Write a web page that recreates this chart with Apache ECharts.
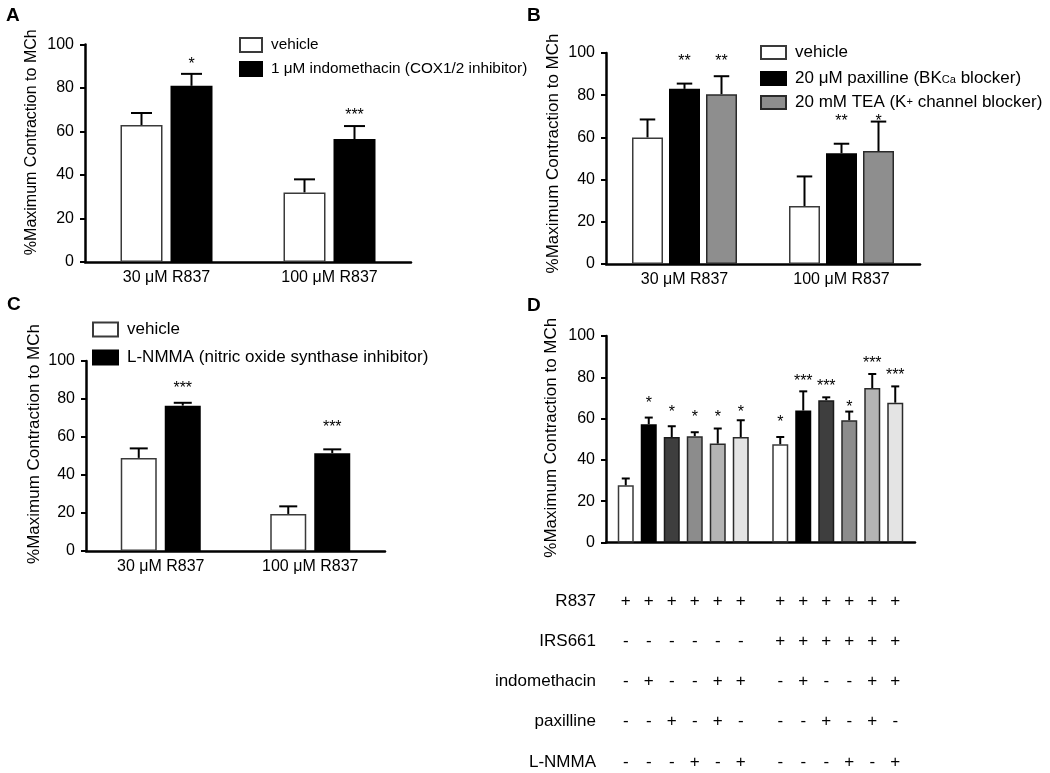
<!DOCTYPE html>
<html>
<head>
<meta charset="utf-8">
<script src="https://cdn.jsdelivr.net/npm/echarts@6/dist/echarts.min.js"></script>
<style>
html,body{margin:0;padding:0;background:#fff;}
#chart{width:1050px;height:773px;}
</style>
</head>
<body>
<div id="chart"></div>
<script>
// ---------- DATA ----------
const doseCats = ['30 μM R837', '100 μM R837'];
const yTicks = [0, 20, 40, 60, 80, 100];

// Panel A
const aVehicle = [63, 32];
const aVehicleErr = [5.5, 6];
const aVehicleStars = ['', ''];
const aVehicleStarLevel = [0, 0];
const aIndo = [81, 56.5];
const aIndoErr = [5.5, 6];
const aIndoStars = ['*', '***'];
const aIndoStarLevel = [92.5, 69];

// Panel B
const bVehicle = [60, 27.5];
const bVehicleErr = [8.5, 14];
const bVehicleStars = ['', ''];
const bVehicleStarLevel = [0, 0];
const bPax = [83, 52.5];
const bPaxErr = [2.5, 4.5];
const bPaxStars = ['**', '**'];
const bPaxStarLevel = [98, 69.5];
const bTEA = [80.5, 53.5];
const bTEAErr = [8.5, 14];
const bTEAStars = ['**', '*'];
const bTEAStarLevel = [98, 69.5];

// Panel C
const cVehicle = [49, 19.5];
const cVehicleErr = [5, 4];
const cVehicleStars = ['', ''];
const cVehicleStarLevel = [0, 0];
const cLNMMA = [76.5, 51.5];
const cLNMMAErr = [1.5, 2];
const cLNMMAStars = ['***', '***'];
const cLNMMAStarLevel = [87.5, 67];

// Panel D (12 bars: two groups of 6)
const dGroups = ['R837', 'R837 + IRS661'];
const dMeans = [27.7, 57.3, 51.1, 51.5, 47.9, 51.1, 47.6, 63.9, 68.9, 59.2, 74.8, 67.7];
const dErr = [3.3, 3.2, 5.2, 1.9, 7.3, 8.1, 3.5, 9.3, 1.4, 4.2, 6.8, 7.9];
const dStars = ['', '*', '*', '*', '*', '*', '*', '***', '***', '*', '***', '***'];
const dStarLevel = [0, 69, 65, 62.5, 62.5, 65, 60, 80, 77.5, 67.5, 88.5, 83];
const dRows = ['R837', 'IRS661', 'indomethacin', 'paxilline', 'L-NMMA'];
const dSigns = [
  ['+','+','+','+','+','+','+','+','+','+','+','+'],
  ['-','-','-','-','-','-','+','+','+','+','+','+'],
  ['-','+','-','-','+','+','-','+','-','-','+','+'],
  ['-','-','+','-','+','-','-','-','+','-','+','-'],
  ['-','-','-','+','-','+','-','-','-','+','-','+']
];

// Names
const nameVehicle = 'vehicle';
const nameIndo = '1 μM indomethacin (COX1/2 inhibitor)';
const namePax = '20 μM paxilline (BKCa blocker)';
const nameTEA = '20 mM TEA (K+ channel blocker)';
const nameLNMMA = 'L-NMMA (nitric oxide synthase inhibitor)';
const yName = '%Maximum Contraction to MCh';

// ---------- STYLE ----------
const FONT = 'Liberation Sans, Arial, Helvetica, sans-serif';
const white = {color: '#ffffff', borderColor: '#3a3a3a', borderWidth: 1.5};
const black = {color: '#000000', borderColor: '#000000', borderWidth: 1.5};
const gray = {color: '#8e8e8e', borderColor: '#2a2a2a', borderWidth: 1.5};
const dStyles = [
  white, black,
  {color: '#3e3e3e', borderColor: '#1a1a1a', borderWidth: 1.5},
  {color: '#8c8c8c', borderColor: '#2a2a2a', borderWidth: 1.5},
  {color: '#b4b4b4', borderColor: '#2a2a2a', borderWidth: 1.5},
  {color: '#e4e4e4', borderColor: '#2a2a2a', borderWidth: 1.5}
];

const grids = [
  {left: 85, top: 44.5, width: 326, height: 217.5},   // A
  {left: 606, top: 53, width: 314, height: 211},      // B
  {left: 86, top: 361, width: 299, height: 190},      // C
  {left: 606, top: 336, width: 309, height: 206.5},   // D
  {left: 606, top: 601, width: 309, height: 161}      // D table (row centres)
];

function xAx(gi, cats, showLabels, fs) {
  return {
    type: 'category', gridIndex: gi, data: cats,
    axisLine: {show: showLabels !== null, lineStyle: {color: '#000', width: 2.5}},
    axisTick: {show: false},
    axisLabel: {show: !!showLabels, color: '#000', fontFamily: FONT, fontSize: fs || 16, margin: 8}
  };
}
function yAx(gi, nameSize, shift, gap) {
  return {
    type: 'value', gridIndex: gi, min: yTicks[0], max: yTicks[yTicks.length - 1],
    interval: yTicks[1] - yTicks[0],
    name: yName, nameLocation: 'middle', nameGap: gap, nameRotate: 90,
    nameTextStyle: {color: '#000', fontFamily: FONT, fontSize: nameSize, padding: [0, 0, 0, shift]},
    axisLine: {show: true, lineStyle: {color: '#000', width: 2.5}},
    axisTick: {show: true, length: 5, lineStyle: {color: '#000', width: 2}},
    axisLabel: {color: '#000', fontFamily: FONT, fontSize: 16, margin: 11},
    splitLine: {show: false}
  };
}

function barSeries(name, gi, data, style, bw, gapPct) {
  return {
    type: 'bar', name: name, xAxisIndex: gi, yAxisIndex: gi, data: data,
    barWidth: bw, barGap: gapPct, itemStyle: style, silent: true, animation: false
  };
}

// error bars + significance stars, positioned with the same offsets as the bars
function errSeries(gi, nSer, bw, gap, means, errs, stars, levels, serIdx, starSize) {
  const items = means.map((m, i) => [i, m, errs[i], levels[i]]);
  return {
    type: 'custom', xAxisIndex: gi, yAxisIndex: gi, data: items, silent: true, animation: false, z: 5,
    renderItem: function (params, api) {
      const cat = api.value(0), m = api.value(1), e = api.value(2), lv = api.value(3);
      const base = api.coord([cat, m]);
      const top = api.coord([cat, m + e]);
      const x = base[0] + (serIdx - (nSer - 1) / 2) * (bw + gap);
      const half = bw / 4;
      const s = stars[params.dataIndex];
      const children = [
        {type: 'line', shape: {x1: x, y1: base[1], x2: x, y2: top[1]}, style: {stroke: '#000', lineWidth: 2}},
        {type: 'line', shape: {x1: x - half, y1: top[1], x2: x + half, y2: top[1]}, style: {stroke: '#000', lineWidth: 2}}
      ];
      if (s) {
        const sp = api.coord([cat, lv]);
        children.push({type: 'text', x: x, y: sp[1] + 4,
          style: {text: s, fill: '#000', font: starSize + 'px ' + FONT, align: 'center', verticalAlign: 'middle'}});
      }
      return {type: 'group', children: children};
    }
  };
}

const series = [];
// A
const aBW = 42, aGap = 8;
series.push(barSeries(nameVehicle, 0, aVehicle, white, aBW, (aGap / aBW * 100) + '%'));
series.push(barSeries(nameIndo, 0, aIndo, black, aBW, (aGap / aBW * 100) + '%'));
series.push(errSeries(0, 2, aBW, aGap, aVehicle, aVehicleErr, aVehicleStars, aVehicleStarLevel, 0, 16));
series.push(errSeries(0, 2, aBW, aGap, aIndo, aIndoErr, aIndoStars, aIndoStarLevel, 1, 16));
// B
const bBW = 31, bGap = 6;
series.push(barSeries(nameVehicle, 1, bVehicle, white, bBW, (bGap / bBW * 100) + '%'));
series.push(barSeries(namePax, 1, bPax, black, bBW, (bGap / bBW * 100) + '%'));
series.push(barSeries(nameTEA, 1, bTEA, gray, bBW, (bGap / bBW * 100) + '%'));
series.push(errSeries(1, 3, bBW, bGap, bVehicle, bVehicleErr, bVehicleStars, bVehicleStarLevel, 0, 16));
series.push(errSeries(1, 3, bBW, bGap, bPax, bPaxErr, bPaxStars, bPaxStarLevel, 1, 16));
series.push(errSeries(1, 3, bBW, bGap, bTEA, bTEAErr, bTEAStars, bTEAStarLevel, 2, 16));
// C
const cBW = 36, cGap = 8;
series.push(barSeries(nameVehicle, 2, cVehicle, white, cBW, (cGap / cBW * 100) + '%'));
series.push(barSeries(nameLNMMA, 2, cLNMMA, black, cBW, (cGap / cBW * 100) + '%'));
series.push(errSeries(2, 2, cBW, cGap, cVehicle, cVehicleErr, cVehicleStars, cVehicleStarLevel, 0, 16));
series.push(errSeries(2, 2, cBW, cGap, cLNMMA, cLNMMAErr, cLNMMAStars, cLNMMAStarLevel, 1, 16));
// D
const dBW = 16, dGap = 7, nD = 6;
for (let s = 0; s < nD; s++) {
  const means = [dMeans[s], dMeans[nD + s]];
  const errs = [dErr[s], dErr[nD + s]];
  const st = [dStars[s], dStars[nD + s]];
  const lv = [dStarLevel[s], dStarLevel[nD + s]];
  series.push(barSeries('D condition ' + (s + 1), 3, means, dStyles[s], dBW, (dGap / dBW * 100) + '%'));
  series.push(errSeries(3, nD, dBW, dGap, means, errs, st, lv, s, 16));
}
// D table of +/- signs, aligned with the bars above
const signItems = [];
dSigns.forEach((row, r) => row.forEach((sg, k) => signItems.push([Math.floor(k / nD), r, k % nD, sg])));
series.push({
  type: 'custom', xAxisIndex: 4, yAxisIndex: 4, silent: true, animation: false,
  data: signItems.map(d => [d[0], d[1], d[2]]),
  renderItem: function (params, api) {
    const g = api.value(0), r = api.value(1), s = api.value(2);
    const p = api.coord([g, r]);
    const x = p[0] + (s - (nD - 1) / 2) * (dBW + dGap);
    return {type: 'text', x: x, y: p[1],
      style: {text: signItems[params.dataIndex][3], fill: '#000', font: '17px ' + FONT, align: 'center', verticalAlign: 'middle'}};
  }
});

function legendCfg(names, left, top, w, h, gap, fs, textGap) {
  return {
    data: names.map(n => ({name: n, icon: 'rect'})), left: left, top: top, orient: 'vertical', padding: 0,
    itemWidth: w, itemHeight: h, itemGap: gap, itemTextGap: textGap, selectedMode: false,
    textStyle: {color: '#000', fontFamily: FONT, fontSize: fs, lineHeight: h, padding: [0, 0, 0, 4],
      rich: {
        sub: {fontFamily: FONT, fontSize: fs * 0.65, verticalAlign: 'bottom', padding: [6, 0, 0, 0], lineHeight: h},
        sup: {fontFamily: FONT, fontSize: fs * 0.65, verticalAlign: 'top', padding: [0, 0, 6, 0], lineHeight: h},
        n: {fontFamily: FONT, fontSize: fs, lineHeight: h}
      }
    },
    formatter: function (name) {
      if (name === namePax) return '{n|20 μM paxilline (BK}{sub|Ca}{n| blocker)}';
      if (name === nameTEA) return '{n|20 mM TEA (K}{sup|+}{n| channel blocker)}';
      return name;
    }
  };
}

const panelLetter = (t, x, y) => ({type: 'text', left: x, top: y,
  style: {text: t, font: 'bold 19px ' + FONT, fill: '#000'}});

const option = {
  backgroundColor: '#ffffff',
  animation: false,
  grid: grids,
  xAxis: [
    xAx(0, doseCats, true, 16),
    xAx(1, doseCats, true, 16),
    xAx(2, doseCats, true, 16),
    xAx(3, dGroups, false),
    Object.assign(xAx(4, dGroups, null), {axisLine: {show: false}})
  ],
  yAxis: [
    yAx(0, 16, 22, 45),
    yAx(1, 17, 10, 44),
    yAx(2, 17, 24, 43),
    yAx(3, 17, 3, 46),
    {
      type: 'category', gridIndex: 4, data: dRows, inverse: true, boundaryGap: false,
      axisLine: {show: false}, axisTick: {show: false}, splitLine: {show: false},
      axisLabel: {color: '#000', fontFamily: FONT, fontSize: 17, margin: 10}
    }
  ],
  legend: [
    legendCfg([nameVehicle, nameIndo], 239, 37, 22, 14, 8, 15.3, 11),
    legendCfg([nameVehicle, namePax, nameTEA], 760, 44, 25, 13, 7, 17, 10),
    legendCfg([nameVehicle, nameLNMMA], 92, 321, 25, 14, 11, 17, 11)
  ],
  graphic: [
    panelLetter('A', 6, 6),
    panelLetter('B', 527, 6),
    panelLetter('C', 7, 295),
    panelLetter('D', 527, 296)
  ],
  series: series
};

const chart = echarts.init(document.getElementById('chart'), null, {renderer: 'canvas'});
chart.setOption(option);
</script>
</body>
</html>
